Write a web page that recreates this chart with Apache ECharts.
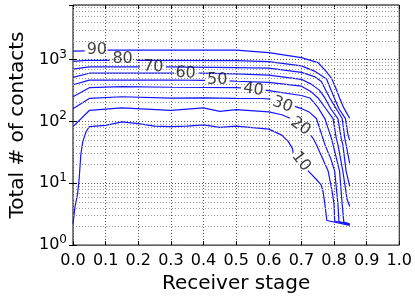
<!DOCTYPE html>
<html>
<head>
<meta charset="utf-8">
<script src="https://cdn.jsdelivr.net/npm/echarts@6/dist/echarts.min.js"></script>
<style>
  html, body { margin: 0; padding: 0; background: #fff; }
  #chart { width: 415px; height: 299px; }
</style>
</head>
<body>
<div id="chart"></div>
<script>
// contour levels and their traces: [receiver stage, total # of contacts], '-' = gap for the inline label
var levels = ['10', '20', '30', '40', '50', '60', '70', '80', '90'];
var line10 = [[0, 2.2], [0.006, 4.1], [0.014, 6.7], [0.019, 12], [0.024, 29], [0.03, 47], [0.04, 68], [0.05, 82], [0.1, 86], [0.15, 98], [0.2, 92], [0.25, 84], [0.3, 82], [0.35, 84], [0.4, 88], [0.45, 80], [0.5, 84], [0.55, 79], [0.6, 75], [0.64, 60], [0.66, 47], [0.672, 37], [0.675, 31], [0.7, '-'], [0.72, 16], [0.746, 11.5], [0.76, 9.5], [0.766, 7.5], [0.772, 4.6], [0.778, 2.5], [0.848, 2.08]];
var line20 = [[0, 82], [0.05, 150], [0.15, 165], [0.3, 150], [0.4, 165], [0.45, 145], [0.5, 155], [0.6, 142], [0.64, 128], [0.665, 112], [0.7, '-'], [0.728, 60], [0.736, 53], [0.746, 42], [0.765, 25], [0.782, 15.7], [0.795, 7], [0.80, 4.6], [0.802, 2.45], [0.848, 2.13]];
var line30 = [[0, 160], [0.05, 235], [0.15, 250], [0.3, 238], [0.4, 240], [0.5, 235], [0.58, 234], [0.605, 228], [0.64, '-'], [0.68, 175], [0.7, 161], [0.725, 140], [0.746, 111], [0.766, 53], [0.772, 42], [0.79, 25], [0.802, 15.7], [0.812, 4.6], [0.815, 2.4], [0.848, 2.16]];
var line40 = [[0, 250], [0.05, 350], [0.15, 365], [0.3, 356], [0.5, 350], [0.515, 348], [0.55, '-'], [0.59, 320], [0.6, 315], [0.7, 262], [0.726, 239], [0.75, 170], [0.772, 111], [0.792, 53], [0.797, 42], [0.817, 15.7], [0.825, 4.6], [0.83, 2.35], [0.848, 2.2]];
var line50 = [[0, 390], [0.05, 465], [0.3, 466], [0.405, 460], [0.44, '-'], [0.48, 450], [0.5, 445], [0.6, 427], [0.7, 370], [0.73, 300], [0.751, 239], [0.775, 160], [0.797, 111], [0.807, 53], [0.812, 42], [0.827, 15.7], [0.84, 5.5], [0.848, 4.2]];
var line60 = [[0, 515], [0.05, 600], [0.31, 603], [0.35, '-'], [0.385, 600], [0.5, 585], [0.6, 560], [0.7, 478], [0.73, 400], [0.755, 320], [0.772, 239], [0.79, 160], [0.812, 111], [0.822, 53], [0.827, 42], [0.837, 15.7], [0.848, 9]];
var line70 = [[0, 700], [0.05, 760], [0.205, 760], [0.24, '-'], [0.285, 758], [0.5, 740], [0.6, 724], [0.7, 618], [0.74, 530], [0.761, 440], [0.787, 239], [0.81, 150], [0.825, 111], [0.833, 53], [0.837, 42], [0.848, 21]];
var line80 = [[0, 930], [0.04, 970], [0.112, 970], [0.15, '-'], [0.195, 970], [0.5, 960], [0.6, 926], [0.7, 787], [0.74, 650], [0.777, 484], [0.801, 239], [0.815, 160], [0.835, 111], [0.843, 60], [0.848, 50]];
var line90 = [[0, 1365], [0.036, 1380], [0.07, '-'], [0.106, 1420], [0.3, 1420], [0.5, 1420], [0.6, 1288], [0.7, 1072], [0.751, 890], [0.775, 650], [0.792, 500], [0.805, 350], [0.817, 239], [0.83, 165], [0.848, 112]];
// inline label anchors [stage, contacts] and text angle
var labelStage = [0.699, 0.697, 0.642, 0.553, 0.442, 0.345, 0.246, 0.152, 0.073];
var labelContacts = [22.5, 83, 186, 326, 466, 603, 759, 1008, 1455];
var labelAngle = [-52, -35, -20, -8, 0, -3, -3, 0, 0];
var xTicks = [0, 0.1, 0.2, 0.3, 0.4, 0.5, 0.6, 0.7, 0.8, 0.9, 1.0];
var yMinorGrid = [2, 3, 4, 5, 6, 7, 8, 9, 20, 30, 40, 50, 60, 70, 80, 90, 200, 300, 400, 500, 600, 700, 800, 900, 2000, 3000, 4000, 5000, 6000, 7000];

var lines = [line10, line20, line30, line40, line50, line60, line70, line80, line90];
var font = 'DejaVu Sans';
var blue = '#1414ff';

var myChart = echarts.init(document.getElementById('chart'));

var series = lines.map(function (d, i) {
  return {
    name: levels[i],
    type: 'line',
    data: d,
    symbol: 'none',
    connectNulls: false,
    lineStyle: { color: blue, width: 1.2 },
    silent: true,
    z: 3
  };
});

// minor grid lines of the log axis
series.push({
  type: 'line',
  data: [],
  silent: true,
  markLine: {
    silent: true,
    symbol: 'none',
    label: { show: false },
    lineStyle: { color: '#999', type: [1, 2], width: 1 },
    data: yMinorGrid.map(function (v) { return { yAxis: v }; })
  },
  z: 1
});

// inline contour labels
series.push({
  type: 'scatter',
  symbolSize: 0,
  silent: true,
  data: levels.map(function (t, i) {
    return {
      value: [labelStage[i], labelContacts[i]],
      name: t,
      label: { rotate: labelAngle[i] }
    };
  }),
  label: {
    show: true,
    position: 'inside',
    formatter: function (p) { return p.name; },
    color: '#111',
    fontFamily: font,
    fontSize: 16
  },
  z: 5
});

var option = {
  animation: false,
  grid: { left: 73, right: 13, top: 5, bottom: 51, show: true, borderColor: '#000', borderWidth: 1, backgroundColor: 'transparent' },
  xAxis: [{
    type: 'value',
    min: 0,
    max: 1,
    interval: 0.1,
    name: 'Receiver stage',
    nameLocation: 'middle',
    nameGap: 25,
    nameTextStyle: { fontFamily: font, fontSize: 20, color: '#000' },
    axisLine: { show: false },
    axisTick: { inside: true, length: 4, lineStyle: { color: '#000' } },
    axisLabel: {
      margin: 8,
      fontFamily: font,
      fontSize: 16,
      color: '#000',
      formatter: function (v) { return v.toFixed(1); }
    },
    splitLine: { show: true, lineStyle: { color: '#555', type: [1, 2], width: 1 } }
  }, {
    type: 'value',
    position: 'top',
    min: 0,
    max: 1,
    interval: 0.1,
    axisLine: { show: false },
    axisTick: { inside: true, length: 4, lineStyle: { color: '#000' } },
    axisLabel: { show: false },
    splitLine: { show: false }
  }],
  yAxis: [{
    type: 'log',
    logBase: 10,
    min: 1,
    max: 7600,
    name: 'Total # of contacts',
    nameLocation: 'middle',
    nameGap: 38,
    nameTextStyle: { fontFamily: font, fontSize: 20, color: '#000' },
    axisLine: { show: false },
    axisTick: { inside: true, length: 4, lineStyle: { color: '#000' } },
    axisLabel: {
      margin: 6,
      showMaxLabel: false,
      fontFamily: font,
      fontSize: 16,
      color: '#000',
      formatter: function (v) {
        var e = Math.round(Math.log10(v));
        if (Math.abs(Math.pow(10, e) - v) > 1e-6 * v) return '';
        return '10{s|' + e + '}';
      },
      rich: { s: { fontSize: 12, fontFamily: font, color: '#000', verticalAlign: 'bottom', padding: [0, 0, 10, 0] } }
    },
    splitLine: { show: true, lineStyle: { color: '#555', type: [1, 2], width: 1 } }
  }, {
    type: 'log',
    logBase: 10,
    min: 1,
    max: 7600,
    position: 'right',
    axisLine: { show: false },
    axisTick: { inside: true, length: 4, lineStyle: { color: '#000' } },
    axisLabel: { show: false },
    splitLine: { show: false }
  }],
  series: series
};

myChart.setOption(option);
</script>
</body>
</html>
